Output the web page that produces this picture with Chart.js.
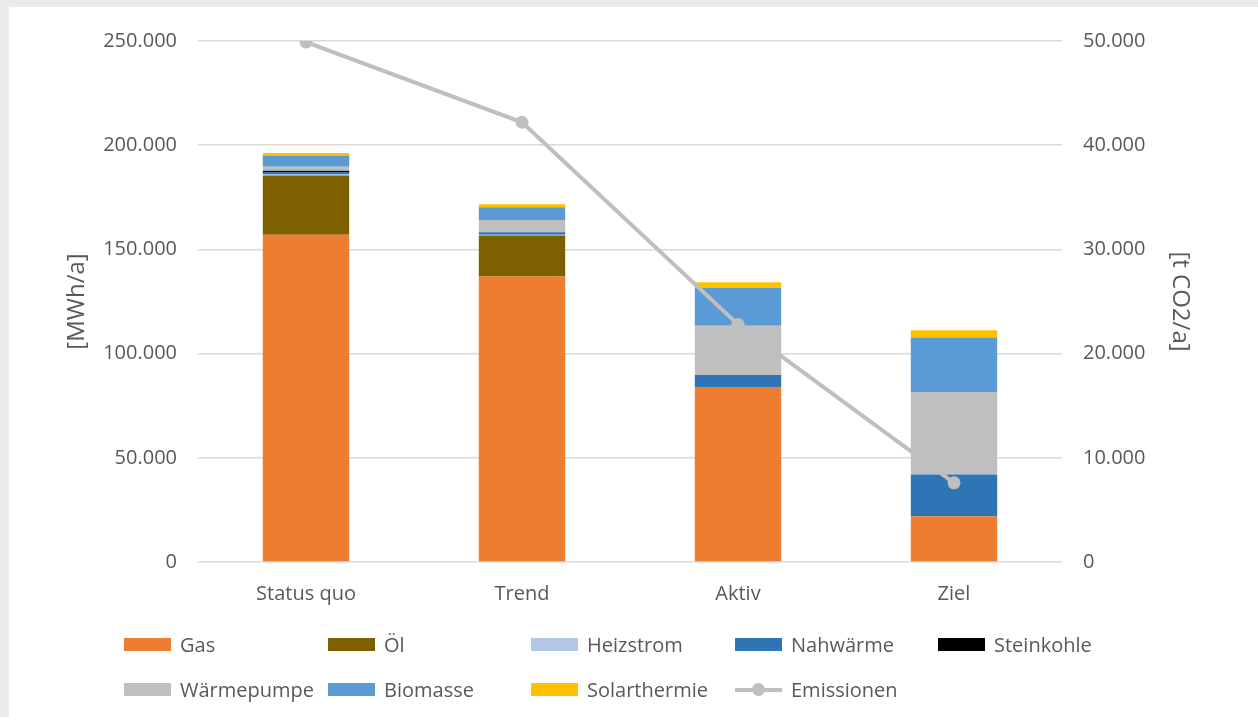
<!DOCTYPE html>
<html>
<head>
<meta charset="utf-8">
<script src="https://cdn.jsdelivr.net/npm/chart.js@4.4.1/dist/chart.umd.min.js"></script>
<style>
  html, body { margin: 0; padding: 0; background: #ebebeb; width: 1258px; height: 717px; overflow: hidden; }
  #wrap { position: absolute; left: 9px; top: 7px; width: 1249px; height: 710px; background: #fff; }
  #chart { position: absolute; left: 0; top: 0; }
  .leg { position: absolute; font-family: "Open Sans", sans-serif; font-size: 20px; color: #595959; line-height: 24px; white-space: nowrap; }
  .leg .sw { display: inline-block; width: 47px; height: 13px; vertical-align: middle; margin-right: 9px; position: relative; top: -2px; }
  .leg .ln { display: inline-block; width: 47px; height: 13px; vertical-align: middle; margin-right: 9px; position: relative; top: -2px; }
  .leg .ln::before { content: ""; position: absolute; left: 0; right: 0; top: 5px; height: 4px; background: #bfbfbf; }
  .leg .ln::after { content: ""; position: absolute; left: 17px; top: 0; width: 13px; height: 13px; border-radius: 50%; background: #bfbfbf; }
</style>
</head>
<body>
<div id="wrap">
  <canvas id="chart" width="1249" height="710"></canvas>
  <div id="legend"></div>
</div>
<script>
const categories = ['Status quo', 'Trend', 'Aktiv', 'Ziel'];

// [MWh/a]
const gas          = [157000, 137000, 84000, 22000];
const oel          = [28500, 19700, 0, 0];
const heizstrom    = [400, 300, 0, 0];
const nahwaerme    = [1300, 1200, 5700, 20000];
const steinkohle   = [500, 0, 0, 0];
const waermepumpe  = [2000, 5900, 23700, 39600];
const biomasse     = [5300, 6100, 18100, 26100];
const solarthermie = [1300, 1500, 2700, 3500];

// [t CO2/a]
const emissionen = [49900, 42200, 22800, 7600];

const colors = {
  gas: '#ed7d31', oel: '#7f6000', heizstrom: '#b4c7e7', nahwaerme: '#2e75b6',
  steinkohle: '#000000', waermepumpe: '#bfbfbf', biomasse: '#5b9bd5',
  solarthermie: '#ffc000', emissionen: '#bfbfbf'
};

const fmt = v => String(v).replace(/\B(?=(\d{3})+(?!\d))/g, '.');
const font = { family: '"Open Sans", sans-serif', size: 20 };
const titleFont = { family: '"Open Sans", sans-serif', size: 24 };
const textColor = '#595959';

function bar(label, data, color) {
  return { type: 'bar', label, data, backgroundColor: color, stack: 's', yAxisID: 'y', order: 1,
           barPercentage: 0.4, categoryPercentage: 1.0, borderWidth: 0 };
}

const datasets = [
  bar('Gas', gas, colors.gas),
  bar('Öl', oel, colors.oel),
  bar('Heizstrom', heizstrom, colors.heizstrom),
  bar('Nahwärme', nahwaerme, colors.nahwaerme),
  bar('Steinkohle', steinkohle, colors.steinkohle),
  bar('Wärmepumpe', waermepumpe, colors.waermepumpe),
  bar('Biomasse', biomasse, colors.biomasse),
  bar('Solarthermie', solarthermie, colors.solarthermie),
  { type: 'line', label: 'Emissionen', data: emissionen, yAxisID: 'y1', order: 0,
    borderColor: colors.emissionen, backgroundColor: colors.emissionen, borderWidth: 4,
    pointRadius: 6.5, pointBackgroundColor: colors.emissionen, pointBorderWidth: 0, tension: 0 }
];

new Chart(document.getElementById('chart'), {
  data: { labels: categories, datasets },
  options: {
    responsive: false,
    animation: false,
    layout: { padding: { top: 34, bottom: 0 } },
    plugins: { legend: { display: false }, tooltip: { enabled: false } },
    scales: {
      x: {
        grid: { display: false, drawTicks: false },
        border: { display: false },
        ticks: { color: textColor, font, padding: 20 },
        afterFit: s => { s.height = 155; }
      },
      y: {
        position: 'left', stacked: true, min: 0, max: 250000,
        ticks: { stepSize: 50000, color: textColor, font, padding: 21, callback: fmt },
        grid: { color: '#d9d9d9', lineWidth: 1.5, drawTicks: false },
        border: { display: false },
        title: { display: true, text: '[MWh/a]', color: textColor, font: titleFont, padding: { top: 54 } },
        afterFit: s => { s.width = 189; }
      },
      y1: {
        position: 'right', min: 0, max: 50000,
        ticks: { stepSize: 10000, color: textColor, font, padding: 21, callback: fmt },
        grid: { display: false, drawTicks: false },
        border: { display: false },
        title: { display: true, text: '[t CO2/a]', color: textColor, font: titleFont, padding: { top: 64 } },
        afterFit: s => { s.width = 196; }
      }
    }
  }
});

// legend laid out in two rows like the original
const legendItems = [
  ['Gas', colors.gas], ['Öl', colors.oel], ['Heizstrom', colors.heizstrom],
  ['Nahwärme', colors.nahwaerme], ['Steinkohle', colors.steinkohle],
  ['Wärmepumpe', colors.waermepumpe], ['Biomasse', colors.biomasse],
  ['Solarthermie', colors.solarthermie], ['Emissionen', null]
];
const colX = [115, 319, 522, 726, 929];
const rowY = [626, 671];
const legend = document.getElementById('legend');
legendItems.forEach(([name, color], i) => {
  const d = document.createElement('div');
  d.className = 'leg';
  d.style.left = colX[i % 5] + 'px';
  d.style.top = rowY[Math.floor(i / 5)] + 'px';
  const sw = document.createElement('span');
  if (color) { sw.className = 'sw'; sw.style.background = color; }
  else sw.className = 'ln';
  d.appendChild(sw);
  d.appendChild(document.createTextNode(name));
  legend.appendChild(d);
});
</script>
</body>
</html>
